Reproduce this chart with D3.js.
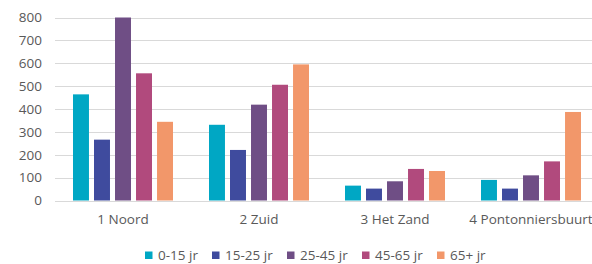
<!DOCTYPE html>
<html>
<head>
<meta charset="utf-8">
<script src="https://cdn.jsdelivr.net/npm/d3@7"></script>
<style>
  html, body { margin: 0; padding: 0; background: #fff; }
  svg { display: block; font-family: 'Open Sans', sans-serif; }
</style>
</head>
<body>
<div class="chart"></div>
<script>
const wijken = ['1 Noord', '2 Zuid', '3 Het Zand', '4 Pontonniersbuurt']
const groepen = ['0-15 jr', '15-25 jr', '25-45 jr', '45-65 jr', '65+ jr']
const kleuren = ['#00a7c4', '#3f4b9e', '#6f4e85', '#b14a7d', '#f2976a']
const yTicks = [0, 100, 200, 300, 400, 500, 600, 700, 800]

const leeftijd0_15 = [464, 331, 65, 90]
const leeftijd15_25 = [266, 221, 52, 52]
const leeftijd25_45 = [800, 419, 84, 110]
const leeftijd45_65 = [556, 506, 138, 171]
const leeftijd65plus = [344, 595, 129, 387]

const series = [leeftijd0_15, leeftijd15_25, leeftijd25_45, leeftijd45_65, leeftijd65plus]

;(function init() {
  const width = 592
  const height = 264
  const margin = { left: 55, right: -7, top: 17.5, bottom: 63.5 }

  const svg = d3
    .select('.chart')
    .append('svg')
    .attr('width', width)
    .attr('height', height)

  const x = d3
    .scaleBand()
    .domain(wijken)
    .range([margin.left, width - margin.right])
    .paddingInner(0)
    .paddingOuter(0)

  const x1 = d3
    .scaleBand()
    .domain(groepen)
    .range([18, x.bandwidth() - 18])
    .paddingInner(0.24)
    .paddingOuter(0)

  const y = d3
    .scaleLinear()
    .domain([0, 800])
    .range([height - margin.bottom, margin.top])

  // gridlines
  svg
    .append('g')
    .selectAll('line')
    .data(yTicks)
    .join('line')
    .attr('x1', margin.left)
    .attr('x2', width)
    .attr('y1', (d) => Math.round(y(d)) + 0.5)
    .attr('y2', (d) => Math.round(y(d)) + 0.5)
    .attr('stroke', '#d9d9d9')
    .attr('stroke-width', 1.2)

  // y axis labels
  const yAxis = d3.axisLeft(y).tickValues(yTicks).tickSize(0).tickPadding(0)
  svg
    .append('g')
    .attr('transform', 'translate(42,0)')
    .call(yAxis)
    .call((g) => g.select('.domain').remove())
    .selectAll('text')
    .attr('fill', '#595959')
    .attr('font-size', 13.5)
    .attr('font-family', "'Open Sans', sans-serif")

  // bars
  svg
    .append('g')
    .selectAll('g')
    .data(series)
    .join('g')
    .attr('fill', (d, i) => kleuren[i])
    .selectAll('rect')
    .data((d, i) => d.map((v, j) => ({ wijk: wijken[j], groep: groepen[i], v })))
    .join('rect')
    .attr('x', (d) => x(d.wijk) + x1(d.groep))
    .attr('width', x1.bandwidth())
    .attr('y', (d) => y(d.v))
    .attr('height', (d) => y(0) - y(d.v))

  // x axis labels
  const xAxis = d3.axisBottom(x).tickSize(0).tickPadding(0)
  svg
    .append('g')
    .attr('transform', `translate(0,${y(0) + 14})`)
    .call(xAxis)
    .call((g) => g.select('.domain').remove())
    .selectAll('text')
    .attr('dy', '0.71em')
    .attr('fill', '#595959')
    .attr('font-size', 13.5)
    .attr('font-family', "'Open Sans', sans-serif")

  // legend
  const legendX = [145, 212, 287, 362, 437]
  const legend = svg
    .append('g')
    .selectAll('g')
    .data(groepen)
    .join('g')
    .attr('transform', (d, i) => `translate(${legendX[i]},255)`)

  legend
    .append('rect')
    .attr('x', 0)
    .attr('y', -3.5)
    .attr('width', 7.5)
    .attr('height', 7.5)
    .attr('fill', (d, i) => kleuren[i])

  legend
    .append('text')
    .attr('x', 13)
    .attr('dy', '0.35em')
    .attr('fill', '#595959')
    .attr('font-size', 13.5)
    .text((d) => d)
})()
</script>
</body>
</html>
